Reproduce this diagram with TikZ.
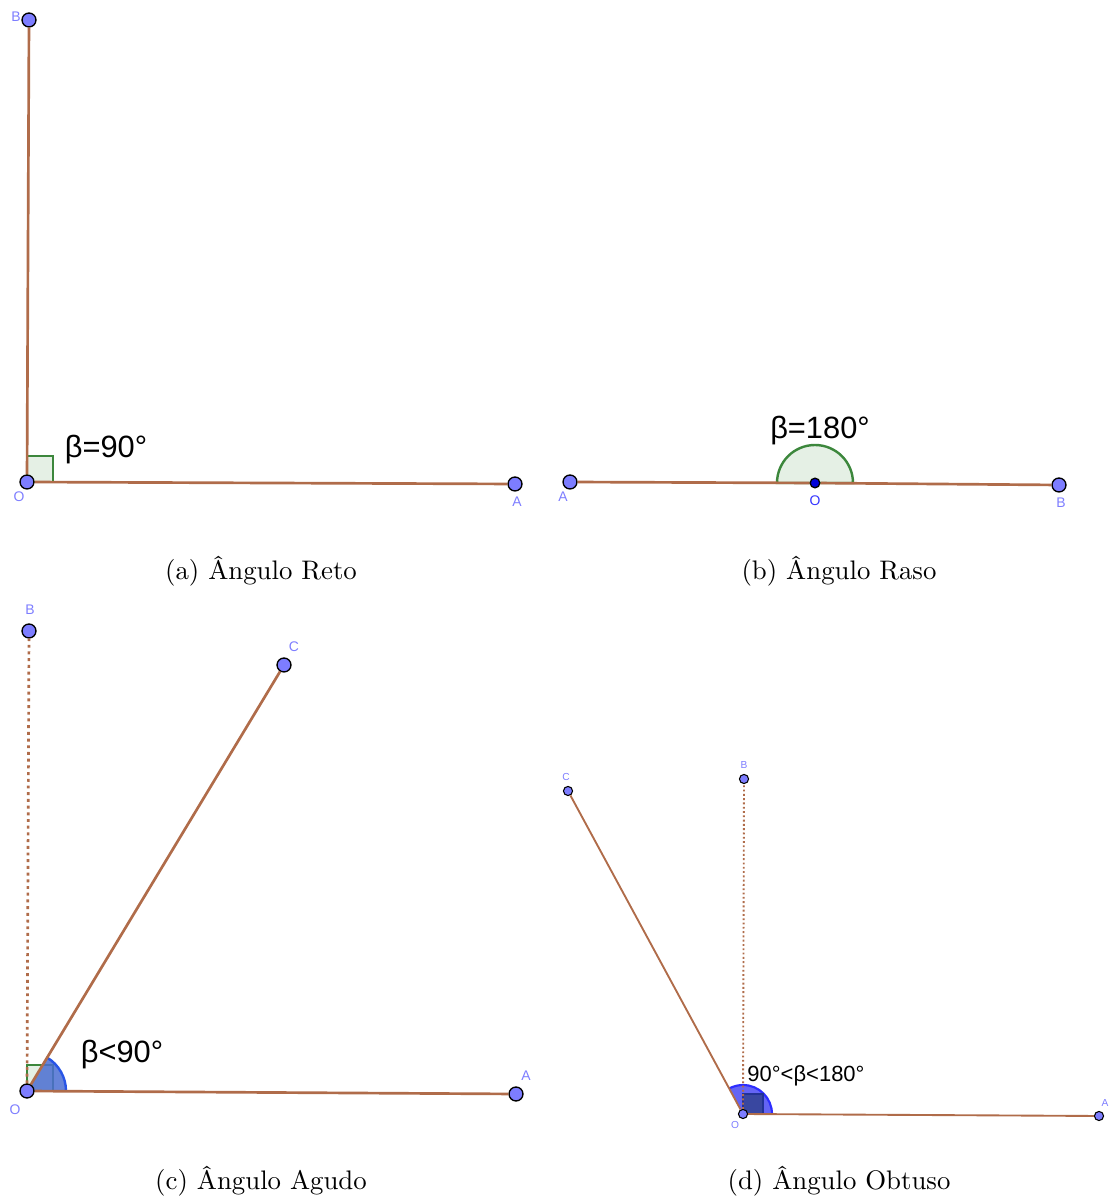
\documentclass[tikz,border=0pt]{standalone}
\usepackage{fontspec}
\usepackage{tikz}
\usepackage{xcolor}
\usetikzlibrary{positioning, calc, backgrounds}
\newfontfamily\ggbfont{Liberation Sans}
\definecolor{segbrown}{RGB}{176, 108, 74}
\definecolor{ptblue}{RGB}{125, 125, 255}
\definecolor{lblblue}{RGB}{125, 125, 255}
\definecolor{rightgreen}{RGB}{60, 135, 60}
\definecolor{rightfill}{RGB}{229, 240, 229}
\definecolor{sectorblue}{RGB}{75, 110, 210}
\definecolor{sectoredge}{RGB}{40, 85, 230}
\definecolor{obtblue}{RGB}{100, 100, 245}
\definecolor{obtedge}{RGB}{45, 45, 255}
\definecolor{obtsquare}{RGB}{35, 50, 150}

\begin{document}
\begin{tikzpicture}[x=0.373pt, y=0.373pt,
    pt/.style={circle, draw=black, line width=0.5pt, fill=ptblue, minimum size=5.2pt, inner sep=0pt},
    smallpt/.style={pt, minimum size=3.4pt, line width=0.4pt},
    seg/.style={segbrown, line width=1pt},
    thinseg/.style={segbrown, line width=0.7pt},
    ptlabel/.style={text=lblblue, font=\ggbfont\fontsize{5.2}{6}\selectfont, inner sep=0pt},
    smalllabel/.style={ptlabel, font=\ggbfont\fontsize{3.8}{4}\selectfont},
    anglabel/.style={font=\ggbfont\fontsize{11.5}{13}\selectfont, inner sep=0pt},
    caption/.style={font=\normalsize, inner sep=0pt}]
    \useasboundingbox (0,0) rectangle (1115,1199);

    % (a) Angulo Reto
    \node[pt] (oa) at (27,717) {};
    \node[pt] (aa) at (515,715) {};
    \node[pt] (ba) at (29,1179) {};
    \begin{scope}[on background layer]
        \draw[rightgreen, fill=rightfill, line width=0.9pt] (oa.center) rectangle +(26,26);
    \end{scope}
    \draw[seg] (oa) -- (aa);
    \draw[seg] (oa) -- (ba);
    \node[ptlabel] (loa) at (19,702) {O};
    \node[ptlabel] (laa) at (517,697) {A};
    \node[ptlabel] (lba) at (16,1182) {B};
    \node[anglabel] (beta90) at (106,749) {β=90°};
    \node[caption] (capa) at (261,628) {(a) Ângulo Reto};

    % (b) Angulo Raso
    \node[pt] (ab) at (570,717) {};
    \node[pt, fill=blue!85!black, minimum size=3.6pt] (ob) at (815,716) {};
    \node[pt] (bb) at (1059,714) {};
    \begin{scope}[on background layer]
        \draw[rightgreen, fill=rightfill, line width=0.9pt] ($(ob.center)+(38,0)$) arc[start angle=0, end angle=180, radius=38] -- cycle;
    \end{scope}
    \draw[seg] (ab) -- (ob);
    \draw[seg] (ob) -- (bb);
    \node[ptlabel] (lab) at (563,702) {A};
    \node[ptlabel, text=blue!80!white] (lob) at (815,698) {O};
    \node[ptlabel] (lbb) at (1061,696) {B};
    \node[anglabel] (beta180) at (820,768) {β=180°};
    \node[caption] (capb) at (839,628) {(b) Ângulo Raso};

    % (c) Angulo Agudo
    \node[pt] (oc) at (27,108) {};
    \node[pt] (ac) at (516,105) {};
    \node[pt] (bc) at (29,568) {};
    \node[pt] (cc) at (284,534) {};
    \begin{scope}[on background layer]
        \draw[rightgreen, fill=rightfill, line width=0.9pt] (oc.center) rectangle +(26,26);
        \fill[sectorblue, fill opacity=0.85] (oc.center) -- ++(0:39) arc[start angle=0, end angle=59, radius=39] -- cycle;
        \draw[sectoredge, line width=0.9pt] ($(oc.center)+(39,0)$) arc[start angle=0, end angle=59, radius=39];
    \end{scope}
    \draw[seg] (oc) -- (ac);
    \draw[seg] (oc) -- (cc);
    \draw[seg, dash pattern=on 1.1pt off 1.4pt] (oc) -- (bc);
    \node[ptlabel] (loc) at (15,89) {O};
    \node[ptlabel] (lac) at (526,123) {A};
    \node[ptlabel] (lbc) at (30,589) {B};
    \node[ptlabel] (lcc) at (294,552) {C};
    \node[anglabel] (beta60) at (122,144) {β<90°};
    \node[caption] (capc) at (261,18) {(c) Ângulo Agudo};

    % (d) Angulo Obtuso
    \node[smallpt] (od) at (743,85) {};
    \node[smallpt] (ad) at (1099,83) {};
    \node[smallpt] (bd) at (744,420) {};
    \node[smallpt] (cd) at (568,408) {};
    \begin{scope}[on background layer]
        \fill[obtblue] (od.center) -- ++(0:29) arc[start angle=0, end angle=118.4, radius=29] -- cycle;
        \draw[obtedge, line width=0.8pt] ($(od.center)+(29,0)$) arc[start angle=0, end angle=118.4, radius=29];
        \draw[obtsquare, fill=obtsquare!90, line width=0.6pt] (od.center) rectangle +(20,20);
    \end{scope}
    \draw[thinseg] (od) -- (ad);
    \draw[thinseg] (od) -- (cd);
    \draw[thinseg, dash pattern=on 0.7pt off 0.9pt] (od) -- (bd);
    \node[smalllabel] (lod) at (735,74) {O};
    \node[smalllabel] (lad) at (1105,96) {A};
    \node[smalllabel] (lbd) at (744,434) {B};
    \node[smalllabel] (lcd) at (566,422) {C};
    \node[anglabel, font=\ggbfont\fontsize{8.2}{10}\selectfont] (beta120) at (806,123) {90°<β<180°};
    \node[caption] (capd) at (839,18) {(d) Ângulo Obtuso};
\end{tikzpicture}
\end{document}
